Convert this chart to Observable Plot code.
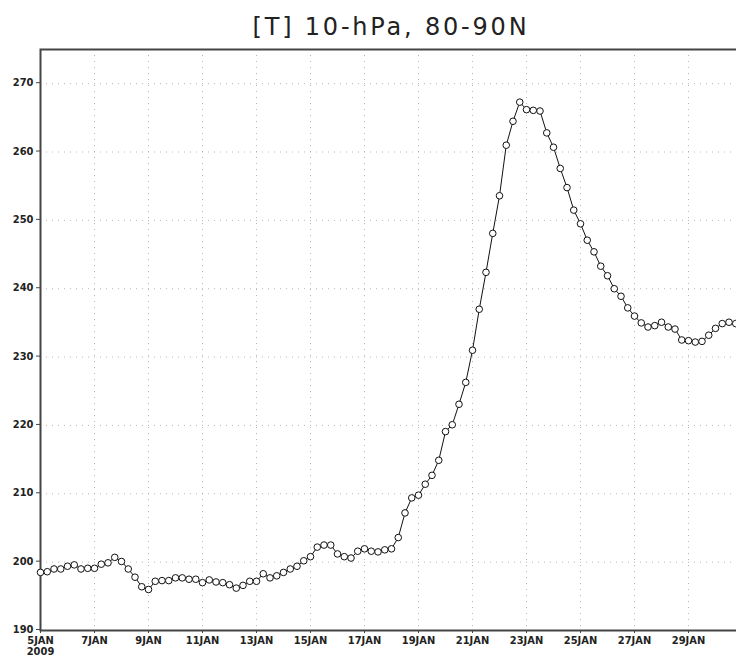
<!DOCTYPE html>
<html>
<head>
<meta charset="utf-8">
<script src="https://cdn.jsdelivr.net/npm/d3@7"></script>
<script src="https://cdn.jsdelivr.net/npm/@observablehq/plot@0.6"></script>
<style>
  html, body { margin: 0; padding: 0; background: #fff; overflow: hidden; }
  #wrap { width: 736px; height: 664px; overflow: hidden; position: relative; }
  #title { position: absolute; left: 40px; width: 702px; top: 12px; text-align: center;
           font-family: "DejaVu Sans", sans-serif; font-size: 24px; letter-spacing: 2.8px; color: #222; line-height: 30px; }
  #chart { position: absolute; left: 0; top: 40px; width: 745px; }
  #chart svg { max-width: none !important; }
</style>
</head>
<body>
<div id="wrap">
  <div id="title">[T] 10-hPa, 80-90N</div>
  <div id="chart"></div>
</div>
<script>
// Polar-cap (80-90N) temperature at 10 hPa, 6-hourly from 5 JAN 2009 00Z
const startTime = Date.UTC(2009, 0, 5, 0);
const stepHours = 6;
const temperature = [
  198.5, 198.6, 199.0, 199.0, 199.4, 199.6, 199.0, 199.1, 199.1, 199.7,
  199.9, 200.7, 200.1, 199.0, 197.8, 196.4, 196.0, 197.2, 197.3, 197.3,
  197.7, 197.7, 197.5, 197.5, 197.0, 197.4, 197.1, 197.0, 196.7, 196.2,
  196.6, 197.2, 197.2, 198.3, 197.7, 198.0, 198.5, 199.0, 199.4, 200.2,
  200.8, 202.2, 202.5, 202.5, 201.2, 200.8, 200.6, 201.6, 201.95, 201.6,
  201.5, 201.8, 201.95, 203.6, 207.2, 209.4, 209.8, 211.4, 212.7, 214.9,
  219.1, 220.1, 223.1, 226.3, 231.0, 237.0, 242.4, 248.1, 253.6, 261.0,
  264.5, 267.3, 266.2, 266.1, 266.0, 262.8, 260.7, 257.6, 254.8, 251.5,
  249.5, 247.1, 245.4, 243.3, 241.9, 240.0, 238.9, 237.2, 236.0, 235.0,
  234.4, 234.6, 235.1, 234.4, 234.1, 232.5, 232.4, 232.2, 232.3, 233.2,
  234.2, 234.9, 235.1, 234.9
];
const yTicks = [190, 200, 210, 220, 230, 240, 250, 260, 270];
const xTickDays = [5, 7, 9, 11, 13, 15, 17, 19, 21, 23, 25, 27, 29];
const xDomainDays = [5, 31];
const yDomain = [190, 275];

const data = temperature.map((v, i) => ({
  time: new Date(startTime + i * stepHours * 3600 * 1000),
  value: v
}));
const xTicks = xTickDays.map(d => new Date(Date.UTC(2009, 0, d)));
const fmt = d => {
  const s = d.getUTCDate() + "JAN";
  return d.getUTCDate() === 5 ? s + "\n2009" : s;
};

const chart = Plot.plot({
  width: 745,
  height: 624,
  marginLeft: 40,
  marginRight: 3,
  marginTop: 9,
  marginBottom: 34,
  style: { fontFamily: "'Liberation Sans Narrow', 'DejaVu Sans Condensed', sans-serif", fontSize: "11px", color: "#222", background: "white", maxWidth: "none" },
  x: { type: "utc", domain: xDomainDays.map(d => new Date(Date.UTC(2009, 0, d))) },
  y: { domain: yDomain },
  marks: [
    Plot.gridY(yTicks.filter(t => t > 190), { stroke: "#999", strokeOpacity: 0.7, strokeDasharray: "1,5" }),
    Plot.gridX(xTicks.slice(1), { stroke: "#999", strokeOpacity: 0.7, strokeDasharray: "1,5" }),
    Plot.frame({ stroke: "#444", strokeWidth: 2 }),
    Plot.axisY(yTicks, { tickSize: 4, tickPadding: 3, label: null, stroke: "#444", fontWeight: "bold", dy: -1 }),
    Plot.axisX(xTicks, { tickSize: 3, tickPadding: 2, label: null, tickFormat: fmt, stroke: "#444", fontWeight: "bold", lineHeight: 1.05 }),
    Plot.line(data, { x: "time", y: "value", stroke: "#111", strokeWidth: 1 }),
    Plot.dot(data, { x: "time", y: "value", r: 3.3, fill: "white", stroke: "#111", strokeWidth: 1 })
  ]
});
chart.style.maxWidth = "none";
document.getElementById("chart").appendChild(chart);
</script>
</body>
</html>
